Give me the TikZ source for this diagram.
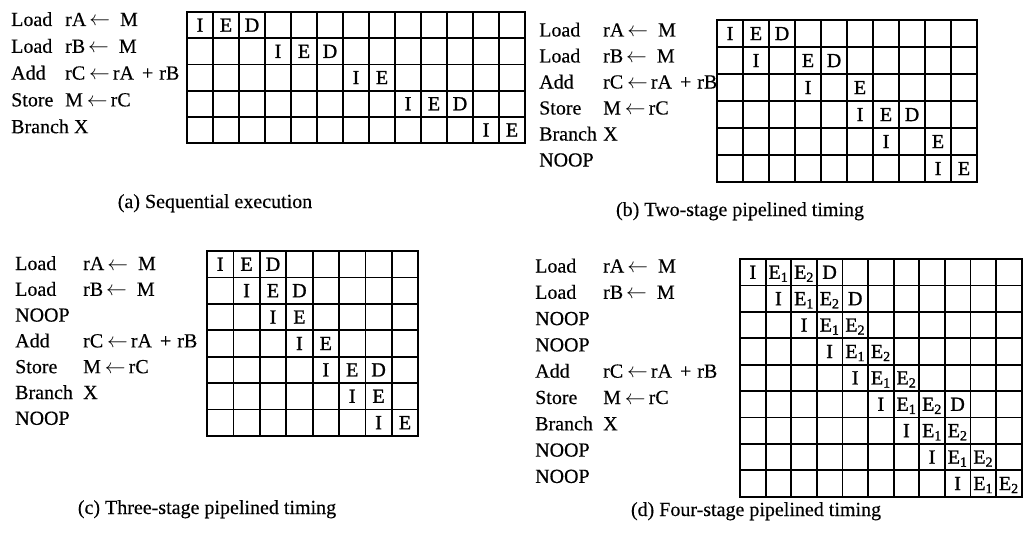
\documentclass[tikz,border=0pt]{standalone}
\usepackage{fontspec}
\setmainfont{Liberation Serif}[FakeBold=0.3]
\newfontfamily\cellfont{Liberation Serif}[FakeBold=1.2]
\newcommand\arrAB{\hspace{3pt}$\leftarrow$\hspace{10pt}}
\newcommand\arrC{\hspace{4pt}$\leftarrow$\hspace{3pt}}
\newcommand\plusop{\hspace{8pt}+\hspace{6pt}}
\newcommand\tgrid[6]{% x0 y0 w h cols rows
  \foreach \i in {0,...,#5}{\draw[gridline] ({#1+\i*#3},#2) -- ({#1+\i*#3},{#2+#6*#4});}
  \foreach \j in {0,...,#6}{\draw[gridline] (#1,{#2+\j*#4}) -- ({#1+#5*#3},{#2+\j*#4});}
}
\newcommand\tcells[6]{% prefix x0 y0 w h list
  \foreach \r/\c/\txt in {#6}{\node[cellletter] (#1-\r-\c) at ({#2+(\c+0.5)*#4},{#3+(\r+0.5)*#5+6.6}) {\txt};}
}
\newcommand\tlabels[6]{% prefix xL xO ybase dy list
  \foreach \op/\arg [count=\k from 0] in {#6}{%
    \node[lbl] (#1-op-\k) at (#2,{#4+\k*#5}) {\op};
    \node[lbl] (#1-arg-\k) at (#3,{#4+\k*#5}) {\arg};}
}
\begin{document}
\begin{tikzpicture}[x=1pt,y=-1pt,
  gridline/.style={line width=1.8pt,black,line cap=rect},
  lbl/.style={anchor=base west,inner sep=0pt,font=\fontsize{20}{24}\selectfont},
  cellletter/.style={anchor=base,inner sep=0pt,font=\cellfont\fontsize{20}{24}\selectfont},
  capt/.style={anchor=base,inner sep=0pt,font=\fontsize{20}{24}\selectfont}]
\useasboundingbox[fill=white] (0,0) rectangle (1024,535);

% (a) Sequential execution
\tlabels{a}{11}{65}{26}{26.8}{Load/rA\arrAB M, Load/rB\arrAB M, Add/rC\arrC rA\plusop rB, Store/M\arrC rC, Branch X/{}}
\tgrid{187}{12}{26}{26.2}{13}{5}
\tcells{a}{187}{12}{26}{26.2}{0/0/I,0/1/E,0/2/D,1/3/I,1/4/E,1/5/D,2/6/I,2/7/E,3/8/I,3/9/E,3/10/D,4/11/I,4/12/E}
\node[capt] (capa) at (215,208) {(a) Sequential execution};

% (b) Two-stage pipelined timing
\tlabels{b}{539}{603}{36.5}{26}{Load/rA\arrAB M, Load/rB\arrAB M, Add/rC\arrC rA\plusop rB, Store/M\arrC rC, Branch/X, NOOP/{}}
\tgrid{717}{20}{26}{27}{10}{6}
\tcells{b}{717}{20}{26}{27}{0/0/I,0/1/E,0/2/D,1/1/I,1/3/E,1/4/D,2/3/I,2/5/E,3/5/I,3/6/E,3/7/D,4/6/I,4/8/E,5/8/I,5/9/E}
\node[capt] (capb) at (740,216) {(b) Two-stage pipelined timing};

% (c) Three-stage pipelined timing
\tlabels{c}{15}{83}{270}{25.8}{Load/rA\arrAB M, Load/rB\arrAB M, NOOP/{}, Add/rC\arrC rA\plusop rB, Store/M\arrC rC, Branch/X, NOOP/{}}
\tgrid{207}{251}{26.4}{26.4}{8}{7}
\tcells{c}{207}{251}{26.4}{26.4}{0/0/I,0/1/E,0/2/D,1/1/I,1/2/E,1/3/D,2/2/I,2/3/E,3/3/I,3/4/E,4/4/I,4/5/E,4/6/D,5/5/I,5/6/E,6/6/I,6/7/E}
\node[capt] (capc) at (207,514) {(c) Three-stage pipelined timing};

% (d) Four-stage pipelined timing
\tlabels{d}{535}{603}{272.5}{26.3}{Load/rA\arrAB M, Load/rB\arrAB M, NOOP/{}, NOOP/{}, Add/rC\arrC rA\plusop rB, Store/M\arrC rC, Branch/X, NOOP/{}, NOOP/{}}
\tgrid{740}{259}{25.6}{26.4}{11}{9}
\tcells{d}{740}{259}{25.6}{26.4}{0/0/I,0/1/E\textsubscript{1},0/2/E\textsubscript{2},0/3/D,
 1/1/I,1/2/E\textsubscript{1},1/3/E\textsubscript{2},1/4/D,
 2/2/I,2/3/E\textsubscript{1},2/4/E\textsubscript{2},
 3/3/I,3/4/E\textsubscript{1},3/5/E\textsubscript{2},
 4/4/I,4/5/E\textsubscript{1},4/6/E\textsubscript{2},
 5/5/I,5/6/E\textsubscript{1},5/7/E\textsubscript{2},5/8/D,
 6/6/I,6/7/E\textsubscript{1},6/8/E\textsubscript{2},
 7/7/I,7/8/E\textsubscript{1},7/9/E\textsubscript{2},
 8/8/I,8/9/E\textsubscript{1},8/10/E\textsubscript{2}}
\node[capt] (capd) at (756,516) {(d) Four-stage pipelined timing};
\end{tikzpicture}
\end{document}
